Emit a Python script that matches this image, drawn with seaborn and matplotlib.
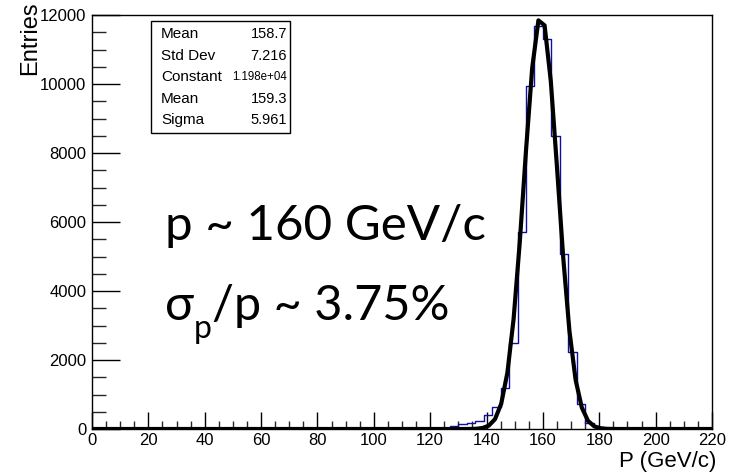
"""
Momentum resolution plot (ROOT style) redone with seaborn.
"""

import numpy as np
import matplotlib
matplotlib.use("Agg")
import matplotlib.pyplot as plt
from matplotlib.patches import Rectangle
from matplotlib.ticker import MultipleLocator
import seaborn as sns

# =============================
# DATA
# =============================

bin_edges = [127, 130, 133, 136, 139, 142, 145, 148, 151, 154, 157, 160,
             163, 166, 169, 172, 175, 178, 181]
bin_counts = [87, 135, 180, 240, 405, 650, 1190, 2490, 5710, 9940, 11680,
              11300, 8490, 5070, 2230, 725, 170, 50]

# gaussian fit parameters shown in the stats box
fit_constant = 1.198e4
fit_mean = 159.3
fit_sigma = 5.961

stat_labels = ["Mean", "Std Dev", "Constant", "Mean", "Sigma"]
stat_values = ["158.7", "7.216", "1.198e+04", "159.3", "5.961"]

# =============================
# FIGURE
# =============================

W, H = 742, 475
sns.set_theme(style="white")
plt.rcParams["font.family"] = ["Liberation Sans", "DejaVu Sans"]
plt.rcParams["text.color"] = "black"

fig = plt.figure(figsize=(W / 100, H / 100), dpi=100)
ax = fig.add_axes([92 / W, 1 - 429 / H, 620 / W, 414 / H])


def px(x, y):
    return x / W, 1 - y / H


centers = [(a + b) / 2 for a, b in zip(bin_edges[:-1], bin_edges[1:])]
sns.histplot(x=centers, weights=bin_counts, bins=bin_edges, element="step",
             fill=False, color="#1010a0", linewidth=1.0, ax=ax)

x_fit = np.linspace(0, 220, 101)
y_fit = fit_constant * np.exp(-0.5 * ((x_fit - fit_mean) / fit_sigma) ** 2)
sns.lineplot(x=x_fit, y=y_fit, color="black", linewidth=3, ax=ax)

ax.set_xlim(0, 220)
ax.set_ylim(0, 12000)
ax.set_xlabel("")
ax.set_ylabel("")

ax.xaxis.set_major_locator(MultipleLocator(20))
ax.xaxis.set_minor_locator(MultipleLocator(5))
ax.yaxis.set_major_locator(MultipleLocator(2000))
ax.yaxis.set_minor_locator(MultipleLocator(500))
ax.tick_params(axis="x", which="major", direction="in", length=12, width=1,
               labelsize=12, pad=3, colors="black")
ax.tick_params(axis="x", which="minor", direction="in", length=6, width=1)
ax.tick_params(axis="y", which="major", direction="in", length=20, width=1,
               labelsize=12, pad=4, colors="black")
ax.tick_params(axis="y", which="minor", direction="in", length=10, width=1)
ax.tick_params(bottom=True, left=True, top=False, right=False, which="both")
for s in ax.spines.values():
    s.set_color("black")
    s.set_linewidth(1)

fig.text(*px(19, 1), "Entries", rotation=90, ha="left", va="top", fontsize=17)
fig.text(*px(716, 472), "P (GeV/c)", ha="right", va="bottom", fontsize=16)

# stats box
fig.patches.append(Rectangle(px(151, 133), 139 / W, 112 / H, transform=fig.transFigure,
                             fill=False, edgecolor="black", linewidth=1))
row_y = [34, 56, 77, 99, 120]
for lab, val, y in zip(stat_labels, stat_values, row_y):
    fig.text(*px(161, y), lab, ha="left", va="center", fontsize=11)
    fs = 8.3 if "e+" in val else 10.5
    fig.text(*px(287, y), val, ha="right", va="center", fontsize=fs)

# annotation text
big = ["Lato", "DejaVu Sans"]
fig.text(*px(165, 240), "p ~ 160 GeV/c", ha="left", va="baseline",
         fontsize=35.5, family=big)

fig.canvas.draw()
r = fig.canvas.get_renderer()
t1 = fig.text(*px(165, 320), "σ", ha="left", va="baseline", fontsize=35, family=big)
x1 = t1.get_window_extent(r).x1
t2 = fig.text(x1 / W, 1 - 338 / H, "p", ha="left", va="baseline", fontsize=23, family=big)
x2 = t2.get_window_extent(r).x1
fig.text(x2 / W, 1 - 320 / H, "/p ~ 3.75%", ha="left", va="baseline",
         fontsize=35, family=big)

fig.savefig("out.png", dpi=100)
